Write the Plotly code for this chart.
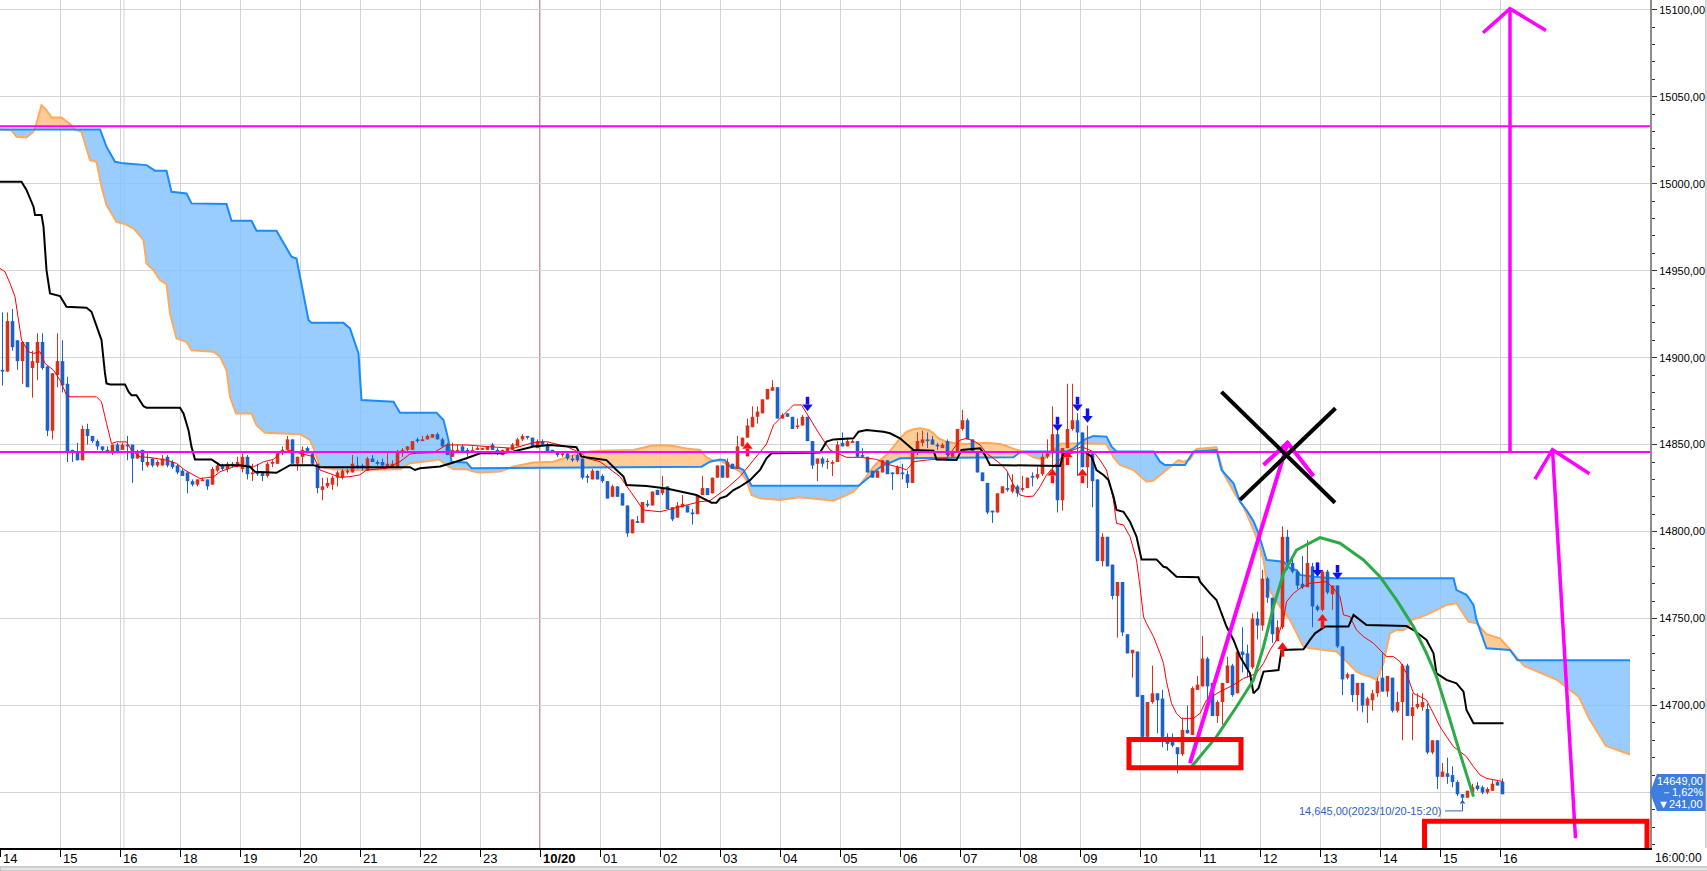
import numpy as np
import plotly.graph_objects as go

# ---------------- data (5-minute bars, index 0 = 14:00) ----------------
hour_labels = ["14", "15", "16", "18", "19", "20", "21", "22", "23", "10/20", "01", "02", "03",
               "04", "05", "06", "07", "08", "09", "10", "11", "12", "13", "14", "15", "16"]

bar_open = [
    14893, 14892, 14921, 14910, 14898, 14909, 14894, 14897, 14909, 14895, 14858, 14890,
    14898, 14885, 14847, 14846, 14841, 14859, 14855, 14852, 14849, 14847, 14845, 14850,
    14847, 14850, 14850, 14842, 14847, 14838, 14842, 14838, 14838, 14843, 14840, 14838,
    14835, 14834, 14829, 14827, 14829, 14830, 14827, 14835, 14838, 14836, 14839, 14838,
    14836, 14843, 14833, 14834, 14834, 14832, 14839, 14839, 14845, 14847, 14853, 14839,
    14843, 14848, 14845, 14839, 14824, 14826, 14827, 14831, 14831, 14834, 14834, 14838,
    14838, 14835, 14842, 14840, 14840, 14837, 14837, 14837, 14845, 14847, 14847, 14853,
    14852, 14853, 14854, 14856, 14853, 14850, 14843, 14846, 14849, 14847, 14846, 14847,
    14847, 14847, 14850, 14847, 14844, 14846, 14847, 14849, 14853, 14855, 14854, 14848,
    14852, 14850, 14847, 14846, 14844, 14845, 14842, 14844, 14842, 14832, 14830, 14835,
    14832, 14829, 14820, 14826, 14822, 14815, 14799, 14806, 14805, 14816, 14815, 14824,
    14822, 14826, 14814, 14808, 14814, 14815, 14811, 14810, 14821, 14825, 14822, 14831,
    14838, 14831, 14839, 14836, 14849, 14854, 14860, 14866, 14868, 14876, 14881, 14883,
    14865, 14868, 14866, 14860, 14861, 14866, 14852, 14839, 14842, 14840, 14839, 14840,
    14851, 14849, 14851, 14852, 14844, 14843, 14835, 14831, 14834, 14841, 14834, 14833,
    14834, 14833, 14828, 14847, 14851, 14853, 14853, 14850, 14848, 14852, 14843, 14846,
    14859, 14864, 14853, 14846, 14834, 14828, 14812, 14811, 14822, 14825, 14823, 14826,
    14824, 14825, 14832, 14831, 14833, 14843, 14845, 14856, 14818, 14848, 14859, 14864,
    14857, 14837, 14845, 14830, 14783, 14797, 14781, 14763, 14771, 14741, 14730, 14731,
    14706, 14682, 14702, 14707, 14704, 14682, 14679, 14676, 14672, 14686, 14683, 14709,
    14711, 14727, 14713, 14694, 14702, 14713, 14723, 14707, 14731, 14730, 14722, 14750,
    14746, 14773, 14762, 14737, 14745, 14797, 14782, 14777, 14770, 14768, 14780, 14757,
    14755, 14777, 14764, 14769, 14734, 14716, 14718, 14706, 14713, 14700, 14703, 14707,
    14716, 14708, 14716, 14697, 14702, 14723, 14694, 14699, 14699, 14698, 14673, 14680,
    14659, 14661, 14660, 14656, 14649, 14647, 14650, 14654, 14653, 14650, 14651, 14656,
    14656]

bar_high = [
    14926, 14926, 14928, 14910, 14909, 14909, 14904, 14914, 14914, 14895, 14891, 14914,
    14910, 14889, 14847, 14851, 14861, 14862, 14855, 14853, 14849, 14849, 14850, 14851,
    14851, 14855, 14850, 14847, 14847, 14845, 14842, 14841, 14844, 14844, 14841, 14839,
    14836, 14834, 14830, 14830, 14831, 14830, 14837, 14840, 14839, 14840, 14840, 14843,
    14845, 14844, 14839, 14839, 14834, 14840, 14841, 14846, 14849, 14855, 14853, 14843,
    14849, 14849, 14845, 14839, 14831, 14831, 14832, 14835, 14836, 14836, 14844, 14843,
    14839, 14843, 14844, 14841, 14842, 14845, 14841, 14847, 14848, 14849, 14852, 14854,
    14855, 14856, 14856, 14857, 14854, 14851, 14851, 14850, 14850, 14848, 14849, 14849,
    14848, 14849, 14851, 14848, 14847, 14848, 14851, 14854, 14856, 14855, 14854, 14853,
    14853, 14851, 14847, 14846, 14845, 14845, 14844, 14845, 14842, 14833, 14836, 14835,
    14833, 14829, 14827, 14826, 14822, 14815, 14807, 14809, 14817, 14818, 14823, 14824,
    14832, 14826, 14814, 14817, 14821, 14815, 14813, 14821, 14832, 14825, 14831, 14838,
    14838, 14842, 14839, 14855, 14854, 14865, 14872, 14872, 14876, 14882, 14887, 14883,
    14868, 14868, 14866, 14865, 14867, 14866, 14852, 14842, 14843, 14842, 14841, 14852,
    14857, 14854, 14853, 14852, 14848, 14843, 14835, 14835, 14841, 14841, 14834, 14838,
    14839, 14835, 14847, 14857, 14858, 14857, 14855, 14851, 14851, 14853, 14846, 14859,
    14870, 14865, 14853, 14846, 14834, 14828, 14812, 14822, 14826, 14834, 14833, 14827,
    14832, 14831, 14834, 14837, 14845, 14853, 14872, 14863, 14848, 14885, 14885, 14868,
    14857, 14861, 14845, 14830, 14799, 14797, 14781, 14771, 14771, 14741, 14732, 14731,
    14706, 14702, 14723, 14707, 14709, 14684, 14684, 14676, 14693, 14700, 14711, 14717,
    14740, 14728, 14713, 14703, 14713, 14728, 14724, 14732, 14745, 14735, 14753, 14754,
    14778, 14774, 14762, 14749, 14803, 14801, 14786, 14778, 14786, 14795, 14782, 14758,
    14778, 14778, 14769, 14769, 14734, 14719, 14718, 14713, 14713, 14705, 14709, 14716,
    14730, 14717, 14716, 14708, 14724, 14724, 14707, 14707, 14707, 14701, 14680, 14680,
    14667, 14670, 14665, 14657, 14649, 14651, 14655, 14656, 14654, 14653, 14657, 14657,
    14658]

bar_low = [
    14884, 14892, 14904, 14893, 14885, 14883, 14877, 14887, 14893, 14855, 14853, 14883,
    14880, 14840, 14840, 14841, 14841, 14850, 14851, 14847, 14846, 14845, 14844, 14845,
    14847, 14841, 14828, 14842, 14835, 14837, 14837, 14837, 14838, 14837, 14836, 14833,
    14832, 14822, 14826, 14826, 14829, 14824, 14827, 14834, 14835, 14834, 14837, 14837,
    14834, 14830, 14829, 14832, 14829, 14831, 14837, 14839, 14844, 14847, 14839, 14835,
    14839, 14845, 14838, 14822, 14818, 14825, 14824, 14826, 14830, 14833, 14834, 14836,
    14835, 14835, 14840, 14838, 14837, 14837, 14837, 14837, 14843, 14846, 14847, 14851,
    14852, 14853, 14854, 14853, 14849, 14844, 14843, 14845, 14846, 14843, 14846, 14847,
    14847, 14847, 14847, 14844, 14844, 14846, 14847, 14849, 14852, 14853, 14849, 14848,
    14849, 14846, 14846, 14843, 14843, 14841, 14840, 14840, 14830, 14828, 14830, 14830,
    14828, 14819, 14820, 14820, 14815, 14797, 14799, 14805, 14805, 14814, 14815, 14821,
    14821, 14813, 14806, 14808, 14814, 14811, 14804, 14810, 14821, 14821, 14822, 14831,
    14831, 14831, 14836, 14836, 14849, 14854, 14860, 14862, 14868, 14876, 14881, 14865,
    14865, 14866, 14859, 14859, 14861, 14852, 14836, 14829, 14837, 14836, 14832, 14840,
    14849, 14849, 14851, 14843, 14843, 14834, 14831, 14831, 14834, 14833, 14824, 14833,
    14830, 14825, 14828, 14844, 14849, 14848, 14850, 14847, 14848, 14843, 14843, 14846,
    14858, 14853, 14846, 14834, 14829, 14810, 14805, 14811, 14822, 14823, 14822, 14820,
    14823, 14825, 14826, 14830, 14832, 14842, 14835, 14811, 14812, 14848, 14858, 14832,
    14837, 14825, 14814, 14783, 14780, 14780, 14761, 14739, 14740, 14730, 14716, 14705,
    14682, 14682, 14701, 14684, 14676, 14674, 14676, 14661, 14671, 14684, 14683, 14709,
    14711, 14703, 14694, 14690, 14689, 14713, 14705, 14707, 14719, 14716, 14721, 14738,
    14743, 14759, 14736, 14737, 14744, 14778, 14776, 14767, 14767, 14768, 14745, 14754,
    14754, 14764, 14755, 14733, 14706, 14715, 14702, 14697, 14696, 14690, 14697, 14705,
    14708, 14705, 14696, 14696, 14680, 14694, 14680, 14698, 14697, 14672, 14672, 14652,
    14659, 14655, 14653, 14648, 14645, 14647, 14650, 14651, 14649, 14649, 14651, 14654,
    14649]

bar_close = [
    14892, 14921, 14906, 14898, 14909, 14883, 14898, 14909, 14894, 14858, 14891, 14898,
    14884, 14846, 14846, 14841, 14859, 14855, 14852, 14849, 14847, 14846, 14850, 14846,
    14850, 14849, 14842, 14845, 14840, 14840, 14838, 14840, 14842, 14838, 14837, 14834,
    14832, 14829, 14827, 14830, 14830, 14826, 14836, 14838, 14836, 14839, 14838, 14840,
    14843, 14833, 14834, 14833, 14832, 14839, 14840, 14845, 14847, 14853, 14839, 14843,
    14847, 14845, 14839, 14825, 14826, 14828, 14831, 14834, 14835, 14835, 14839, 14837,
    14837, 14842, 14840, 14839, 14838, 14839, 14839, 14846, 14847, 14849, 14852, 14852,
    14853, 14855, 14856, 14853, 14849, 14844, 14847, 14847, 14846, 14845, 14847, 14848,
    14848, 14849, 14847, 14845, 14847, 14848, 14850, 14853, 14855, 14854, 14849, 14852,
    14850, 14846, 14846, 14844, 14845, 14842, 14841, 14841, 14831, 14831, 14835, 14830,
    14829, 14819, 14826, 14820, 14815, 14799, 14807, 14805, 14817, 14815, 14823, 14821,
    14825, 14813, 14807, 14815, 14816, 14811, 14810, 14821, 14825, 14821, 14831, 14838,
    14831, 14840, 14836, 14849, 14854, 14861, 14866, 14869, 14876, 14882, 14883, 14865,
    14867, 14866, 14859, 14861, 14866, 14852, 14838, 14842, 14839, 14840, 14840, 14850,
    14849, 14852, 14852, 14843, 14843, 14834, 14831, 14835, 14841, 14833, 14833, 14837,
    14833, 14828, 14847, 14852, 14853, 14852, 14850, 14849, 14850, 14844, 14846, 14859,
    14864, 14853, 14846, 14834, 14829, 14811, 14811, 14822, 14826, 14824, 14827, 14822,
    14825, 14831, 14831, 14833, 14843, 14845, 14856, 14818, 14848, 14859, 14864, 14857,
    14837, 14845, 14829, 14783, 14797, 14780, 14763, 14771, 14742, 14730, 14732, 14705,
    14682, 14702, 14707, 14703, 14682, 14678, 14677, 14672, 14686, 14684, 14710, 14712,
    14727, 14711, 14694, 14702, 14713, 14723, 14706, 14731, 14729, 14721, 14750, 14746,
    14773, 14762, 14741, 14745, 14797, 14782, 14777, 14769, 14768, 14782, 14757, 14755,
    14777, 14765, 14769, 14734, 14715, 14718, 14706, 14713, 14700, 14704, 14707, 14714,
    14708, 14717, 14697, 14702, 14723, 14694, 14699, 14701, 14702, 14673, 14680, 14659,
    14662, 14659, 14656, 14649, 14647, 14651, 14653, 14652, 14650, 14652, 14655, 14654,
    14649]

# Ichimoku lines as (bar position, price) vertices
tenkan_pts = [(-0.5,14951.3),(0.5,14949.4),(1.5,14942.7),(2.5,14935.0),(3.2,14921.6),(3.8,14910.1),(5.2,14903.4),(6.2,14902.4),(7.5,14903.4),(8.5,14896.7),(10.2,14892.8),(11.5,14887.1),(12.8,14878.5),(13.5,14877.5),(18.8,14877.5),(19.8,14874.6),(20.8,14862.2),(21.8,14850.6),(22.8,14851.6),(24.8,14851.6),(25.8,14846.8),(27.5,14843.0),(29.5,14842.6),(32.8,14841.1),(34.8,14839.2),(36.5,14835.3),(39.5,14830.5),(42.2,14831.5),(43.5,14834.4),(46.2,14837.2),(48.8,14838.2),(50.2,14837.2),(52.2,14840.1),(54.2,14841.5),(55.5,14845.3),(57.5,14846.8),(59.5,14845.0),(62.2,14843.1),(63.5,14835.4),(65.5,14833.5),(67.5,14831.2),(69.5,14831.6),(71.5,14832.6),(72.8,14835.4),(76.8,14836.4),(79.5,14840.2),(81.5,14844.6),(82.8,14845.0),(86.2,14845.4),(88.8,14849.8),(92.8,14849.8),(96.8,14848.9),(102.2,14847.9),(103.5,14848.9),(106.2,14851.2),(108.8,14851.7),(112.8,14848.9),(115.8,14845.0),(116.8,14842.2),(119.5,14840.2),(123.5,14831.6),(128.2,14812.4),(131.5,14811.4),(139.5,14817.2),(141.5,14817.8),(144.8,14824.8),(147.5,14831.6),(150.2,14841.1),(152.8,14850.3),(154.2,14861.3),(156.8,14868.4),(158.2,14872.8),(159.8,14872.8),(160.8,14868.0),(163.5,14855.5),(165.5,14846.9),(168.8,14842.7),(171.5,14842.7),(174.8,14841.5),(177.5,14838.3),(179.5,14836.9),(180.8,14835.4),(182.2,14840.2),(184.8,14841.1),(188.8,14842.1),(191.5,14852.6),(192.8,14853.6),(194.5,14851.7),(195.5,14849.8),(196.8,14845.0),(199.5,14839.2),(200.8,14835.4),(202.2,14826.8),(203.5,14821.0),(204.8,14820.1),(206.2,14820.4),(207.5,14825.8),(208.8,14832.5),(210.2,14837.3),(211.5,14842.1),(212.8,14845.9),(214.2,14846.9),(215.8,14848.8),(218.2,14845.9),(219.5,14841.1),(220.8,14835.4),(222.2,14818.1),(222.8,14804.7),(224.2,14803.8),(225.5,14797.1),(226.8,14783.6),(227.5,14768.3),(228.2,14751.0),(228.8,14747.2),(230.2,14739.6),(231.5,14730.0),(232.2,14724.2),(232.8,14713.7),(233.8,14701.2),(234.8,14695.4),(235.8,14692.6),(238.2,14692.6),(239.5,14695.5),(240.8,14703.2),(243.5,14708.0),(246.2,14711.8),(248.2,14715.6),(250.8,14718.5),(252.2,14724.3),(253.5,14731.9),(254.8,14737.7),(256.2,14749.2),(256.8,14759.7),(258.2,14764.5),(259.5,14767.4),(261.5,14770.3),(264.8,14771.2),(266.2,14767.4),(267.5,14762.6),(268.2,14752.1),(269.5,14751.1),(270.8,14743.4),(272.2,14739.6),(274.2,14735.8),(276.8,14728.1),(278.2,14728.1),(279.5,14725.2),(280.8,14718.5),(282.2,14707.0),(284.8,14703.2),(286.2,14695.5),(287.5,14687.8),(288.8,14682.1),(290.2,14676.3),(291.5,14673.5),(292.8,14670.6),(294.2,14664.8),(295.5,14660.1),(296.8,14658.1),(298.2,14657.2),(300.2,14656.2)]

kijun_pts = [(-0.5,15001.1),(3.8,15001.1),(4.8,14996.4),(6.2,14986.8),(6.5,14982.0),(7.8,14982.0),(8.2,14975.3),(8.8,14950.3),(9.5,14936.9),(11.5,14935.4),(12.8,14929.2),(16.8,14928.7),(17.8,14926.4),(18.8,14917.8),(19.8,14910.1),(20.5,14890.9),(20.8,14885.2),(21.5,14884.6),(24.5,14884.6),(25.2,14880.4),(25.8,14878.4),(26.8,14878.4),(28.2,14872.1),(28.8,14871.2),(35.5,14871.2),(36.2,14867.9),(37.2,14858.3),(37.8,14848.7),(38.5,14841.5),(41.8,14841.5),(43.5,14838.2),(47.5,14838.2),(49.5,14837.2),(50.5,14834.4),(54.8,14833.8),(57.5,14838.2),(62.2,14838.2),(63.5,14837.0),(81.5,14837.0),(82.5,14835.4),(83.5,14836.4),(87.5,14837.4),(88.8,14838.3),(90.2,14839.7),(92.8,14842.2),(95.5,14845.0),(99.5,14845.0),(102.2,14846.0),(106.2,14848.9),(109.5,14849.8),(114.8,14848.5),(115.8,14843.1),(119.5,14841.6),(120.8,14841.1),(122.8,14835.4),(124.2,14831.6),(124.8,14826.8),(128.8,14826.2),(132.8,14824.8),(135.5,14822.9),(138.8,14821.0),(140.8,14818.1),(141.8,14816.6),(142.8,14816.6),(143.5,14819.1),(144.8,14820.4),(146.2,14823.9),(147.5,14825.8),(149.5,14829.6),(151.5,14835.4),(152.8,14842.1),(153.8,14845.0),(163.5,14845.4),(164.8,14851.7),(166.2,14853.0),(170.2,14853.6),(171.2,14857.4),(172.8,14858.4),(176.2,14857.4),(177.5,14856.5),(178.8,14854.6),(179.5,14853.6),(182.2,14846.9),(186.2,14846.5),(186.8,14841.5),(190.8,14841.1),(191.8,14846.9),(195.5,14847.9),(196.5,14844.0),(197.5,14838.3),(211.5,14837.7),(212.2,14845.0),(215.5,14845.9),(216.8,14845.4),(217.8,14843.1),(218.8,14835.4),(220.2,14832.5),(221.2,14829.6),(222.2,14820.1),(222.8,14812.4),(224.2,14811.4),(225.5,14805.7),(226.8,14797.1),(227.5,14788.4),(227.8,14784.0),(230.8,14784.0),(232.2,14779.8),(232.8,14779.4),(234.8,14774.0),(239.2,14773.7),(239.5,14771.2),(241.5,14764.5),(242.8,14760.7),(244.8,14745.4),(246.2,14737.7),(247.5,14728.1),(249.5,14718.5),(250.2,14707.0),(251.2,14709.9),(252.2,14719.5),(255.2,14720.4),(255.8,14731.9),(260.2,14732.3),(261.5,14737.7),(262.5,14741.5),(264.5,14745.4),(269.2,14745.4),(270.2,14752.1),(272.8,14746.3),(280.8,14745.7),(282.2,14743.4),(284.8,14737.7),(286.2,14730.0),(286.8,14718.5),(288.8,14714.7),(290.8,14712.8),(292.2,14708.0),(292.8,14697.4),(294.2,14689.8),(300.2,14689.8)]

spanA_pts = [(-0.5,15031.2),(1.8,15030.8),(2.8,15027.0),(4.8,15026.6),(6.2,15029.9),(6.8,15034.7),(7.8,15045.2),(8.8,15042.3),(9.8,15038.1),(11.8,15038.1),(13.8,15033.7),(14.5,15031.2),(15.8,15029.9),(17.5,15013.6),(18.8,15012.6),(19.8,14998.3),(20.8,14987.7),(22.8,14978.1),(24.5,14976.8),(26.2,14974.3),(28.2,14967.6),(28.8,14954.2),(30.2,14950.3),(31.5,14944.6),(32.8,14942.3),(33.5,14925.4),(34.8,14911.0),(36.8,14909.1),(37.8,14904.3),(42.2,14903.4),(43.5,14900.5),(44.8,14892.8),(45.5,14877.5),(46.7,14867.9),(49.8,14867.9),(50.8,14861.2),(52.5,14856.8),(59.5,14856.0),(61.5,14852.7),(62.5,14846.0),(63.5,14837.4),(66.2,14835.8),(69.5,14835.4),(76.2,14835.8),(79.5,14835.8),(81.5,14839.3),(86.2,14840.8),(87.2,14841.6),(88.2,14839.3),(89.2,14837.4),(90.2,14835.8),(92.8,14835.8),(94.2,14834.5),(95.5,14833.9),(99.5,14834.5),(100.8,14835.8),(102.2,14837.4),(106.2,14839.7),(110.2,14840.2),(112.8,14842.7),(115.5,14845.0),(117.5,14846.0),(119.5,14846.5),(126.2,14846.9),(127.5,14847.8),(129.5,14849.2),(131.5,14849.8),(134.2,14849.2),(136.8,14847.8),(139.5,14846.9),(140.8,14842.7),(142.2,14840.8),(143.5,14840.8),(146.2,14836.3),(147.5,14834.4),(148.8,14829.6),(149.8,14821.0),(151.5,14819.1),(155.5,14818.1),(159.5,14819.7),(162.2,14819.1),(166.2,14817.8),(168.8,14821.0),(170.2,14822.9),(171.5,14826.8),(172.8,14831.6),(174.2,14837.3),(175.5,14841.1),(176.8,14844.0),(178.2,14848.8),(179.5,14853.6),(180.8,14857.4),(182.2,14858.8),(183.5,14859.4),(185.2,14858.4),(186.2,14856.5),(187.2,14853.6),(188.8,14851.7),(190.8,14850.7),(192.8,14850.3),(195.5,14850.7),(196.8,14851.1),(199.5,14850.3),(200.8,14849.2),(202.5,14847.3),(204.2,14845.9),(206.2,14842.7),(208.2,14841.5),(210.2,14846.5),(211.5,14850.5),(216.2,14850.8),(220.8,14850.3),(222.2,14842.7),(223.5,14838.3),(226.2,14835.4),(228.8,14828.7),(230.2,14829.3),(232.8,14835.4),(234.2,14838.3),(235.2,14841.1),(236.2,14840.2),(237.5,14841.5),(238.8,14847.5),(242.8,14848.5),(244.2,14833.5),(246.8,14820.1),(247.8,14816.3),(248.8,14810.5),(250.2,14801.0),(251.2,14793.3),(252.2,14783.7),(252.8,14772.2),(253.8,14764.5),(255.5,14756.8),(257.5,14749.2),(258.8,14741.5),(260.2,14733.8),(261.5,14732.9),(264.8,14731.9),(266.8,14731.0),(268.2,14727.1),(269.5,14723.3),(270.8,14719.5),(272.2,14717.6),(273.5,14716.6),(274.8,14714.7),(276.2,14724.3),(276.8,14732.9),(277.5,14741.5),(278.8,14743.4),(280.2,14743.4),(281.2,14745.3),(281.8,14749.2),(282.8,14750.1),(284.8,14752.1),(286.8,14754.9),(288.8,14757.8),(290.8,14758.8),(292.2,14753.0),(293.2,14748.2),(294.8,14747.3),(296.8,14741.0),(299.5,14738.6),(301.5,14732.3),(304.3,14722.7),(310.9,14714.7),(315.3,14704.9),(317.3,14692.5),(320.7,14676.7),(325.5,14671.8)]

spanB_pts = [(-0.5,15031.2),(19.5,15031.2),(20.8,15021.3),(22.5,15012.6),(24.2,15011.7),(28.8,15010.7),(30.5,15007.5),(32.8,15007.5),(33.8,14995.4),(36.8,14994.4),(37.8,14988.7),(44.8,14988.3),(45.8,14978.7),(49.8,14978.7),(50.8,14973.0),(54.8,14973.0),(57.8,14958.0),(58.8,14957.0),(61.2,14921.6),(61.8,14920.0),(68.2,14920.0),(69.5,14916.8),(71.2,14902.4),(71.8,14875.6),(74.5,14875.2),(78.2,14874.6),(79.5,14868.3),(86.8,14868.3),(88.2,14864.1),(89.2,14852.6),(89.8,14840.1),(92.8,14839.7),(93.8,14836.4),(119.5,14837.0),(139.8,14837.3),(141.5,14840.2),(143.5,14841.5),(144.5,14841.1),(145.2,14838.3),(145.8,14836.9),(147.2,14836.9),(148.2,14835.4),(149.2,14829.6),(149.8,14826.4),(171.2,14826.4),(172.2,14828.7),(173.5,14831.6),(174.8,14835.4),(176.2,14838.3),(177.5,14839.6),(179.5,14842.1),(202.2,14842.7),(203.2,14845.0),(204.2,14846.1),(212.8,14846.1),(214.2,14847.8),(215.5,14851.1),(216.8,14853.5),(218.2,14855.0),(220.8,14854.6),(221.8,14848.9),(222.8,14846.0),(230.2,14846.0),(231.5,14840.2),(232.5,14838.3),(236.5,14838.3),(238.2,14846.0),(242.8,14846.9),(243.8,14835.4),(246.2,14827.8),(247.5,14817.2),(248.8,14812.4),(250.2,14806.0),(251.2,14799.0),(252.2,14790.0),(252.8,14783.7),(256.2,14782.7),(257.5,14778.9),(258.8,14777.9),(259.5,14775.1),(262.2,14774.1),(266.2,14773.1),(290.2,14773.1),(290.8,14766.4),(292.8,14763.6),(294.2,14757.8),(294.8,14749.2),(295.8,14741.5),(296.8,14732.9),(301.5,14731.9),(303.0,14726.0),(325.5,14726.0)]

up_signal_k = [149, 210, 213, 216, 256, 264]
up_signal_p = [14847.0, 14831.6, 14842.1, 14831.6, 14731.9, 14748.2]
down_signal_k = [161, 211, 215, 217, 263, 267]
down_signal_p = [14873.7, 14862.2, 14873.7, 14867.0, 14778.5, 14777.0]

level_lines = [15033.0, 14845.7]
last_price_text = ["14649,00", "－1,62%", "▼241,00"]
last_price = 14650.0
low_k, low_price = 292, 14645.0
low_text = "14,645,00(2023/10/20-15:20)"
y_ticks = list(range(14650, 15101, 50))

# ---------------- figure ----------------
RED = "#d3321c"
BLUE = "#1b61c6"
O = np.array(bar_open, float); H = np.array(bar_high, float)
L = np.array(bar_low, float); C = np.array(bar_close, float)
ks = np.arange(len(O))
up = C >= O

fig = go.Figure()

def add_line(x, y, color, width, **kw):
    fig.add_trace(go.Scatter(x=x, y=y, mode="lines", line=dict(color=color, width=width),
                             hoverinfo="skip", showlegend=False, **kw))

# cloud fill between span A and span B
ak, ap = zip(*spanA_pts)
bk, bp = zip(*spanB_pts)
fine = np.arange(-0.5, 325.5 + 1e-9, 0.1)
a = np.interp(fine, ak, ap)
b = np.interp(fine, bk, bp)
lo = np.minimum(a, b)
for top, col in ((np.where(b > a, b, lo), "rgba(128,191,255,0.8)"),
                 (np.where(a > b, a, lo), "rgba(255,190,125,0.8)")):
    add_line(fine, lo, col, 0)
    add_line(fine, top, col, 0, fill="tonexty", fillcolor=col)

add_line(list(ak), list(ap), "#ffa95c", 2)
add_line(list(bk), list(bp), "#1a8aff", 2)

# candles
def segs(xs, y0, y1):
    X, Y = [], []
    for x, p, q in zip(xs, y0, y1):
        X += [x, x, None]
        Y += [p, q, None]
    return X, Y

for mask, col in ((up, RED), (~up, BLUE)):
    X, Y = segs(ks[mask], L[mask], H[mask])
    add_line(X, Y, col, 1)
    lo_b = np.minimum(O, C)[mask]
    hi_b = np.maximum(np.maximum(O, C)[mask], lo_b + 0.7)
    X, Y = segs(ks[mask], lo_b, hi_b)
    add_line(X, Y, col, 3.6)

tk, tp = zip(*tenkan_pts)
add_line(list(tk), list(tp), "#ff0000", 1)
kk_, kp = zip(*kijun_pts)
add_line(list(kk_), list(kp), "#000000", 2)

# signal arrows
X, Y = segs(up_signal_k, [p - 3.8 for p in up_signal_p], [p + 0.6 for p in up_signal_p])
add_line(X, Y, "#ff1010", 3.5)
fig.add_trace(go.Scatter(x=up_signal_k, y=[p + 1.9 for p in up_signal_p], mode="markers",
                         marker=dict(symbol="triangle-up", size=9, color="#ff1010"),
                         hoverinfo="skip", showlegend=False))
X, Y = segs(down_signal_k, [p - 0.6 for p in down_signal_p], [p + 3.8 for p in down_signal_p])
add_line(X, Y, "#1010e8", 3.5)
fig.add_trace(go.Scatter(x=down_signal_k, y=[p - 1.9 for p in down_signal_p], mode="markers",
                         marker=dict(symbol="triangle-down", size=9, color="#1010e8"),
                         hoverinfo="skip", showlegend=False))

# low marker
fig.add_trace(go.Scatter(x=[low_k], y=[low_price - 0.6], mode="markers",
                         marker=dict(symbol="triangle-up", size=5, color="#2a62c0"),
                         hoverinfo="skip", showlegend=False))

shapes = []
# session separator & date line
shapes.append(dict(type="line", xref="x", yref="paper", x0=24.3, x1=24.3, y0=0, y1=1,
                   line=dict(color="#d4d4d4", width=1), layer="between"))
shapes.append(dict(type="line", xref="x", yref="paper", x0=107.5, x1=107.5, y0=0, y1=1,
                   line=dict(color="#a8204a", width=1), layer="between"))
for lv in level_lines:
    shapes.append(dict(type="line", xref="paper", yref="y", x0=0, x1=1, y0=lv, y1=lv,
                       line=dict(color="#ff00ff", width=2)))

def path(pts):
    return "M " + " L ".join(f"{x},{y}" for x, y in pts)

MAG = "#ff00ff"
drawings = [
    ([(301.5, 14845.7), (301.5, 15100.6)], MAG, 3.5),
    ([(296.1, 15086.8), (301.5, 15100.6), (308.7, 15088.1)], MAG, 3.5),
    ([(314.6, 14623.7), (310.0, 14847.1)], MAG, 3.5),
    ([(306.5, 14830.2), (310.0, 14847.1), (317.4, 14833.3)], MAG, 3.5),
    ([(237.5, 14666.9), (257.0, 14850.8)], MAG, 4),
    ([(252.2, 14838.3), (257.0, 14851.1), (262.2, 14831.9)], MAG, 4),
    ([(243.8, 14880.3), (266.5, 14816.6)], "#000000", 4),
    ([(247.5, 14818.2), (266.6, 14870.9)], "#000000", 4),
    ([(237.8, 14664.8), (242.8, 14682.1), (246.8, 14699.3), (250.2, 14714.7), (252.2, 14733.8),
      (254.2, 14756.8), (256.2, 14776.0), (258.8, 14789.4), (263.5, 14796.5), (267.5, 14793.3),
      (272.2, 14783.7), (275.5, 14774.1), (278.8, 14760.7), (282.2, 14745.3), (284.8, 14730.0),
      (286.8, 14716.6), (289.5, 14691.7), (291.5, 14672.5), (294.2, 14647.6)], "#2caa48", 3),
]
for pts, col, w in drawings:
    shapes.append(dict(type="path", xref="x", yref="y", path=path(pts),
                       line=dict(color=col, width=w)))
shapes.append(dict(type="rect", xref="x", yref="y", x0=225.3, x1=247.7, y0=14664.2, y1=14680.4,
                   line=dict(color="#ff0000", width=5)))
shapes.append(dict(type="rect", xref="x", yref="y", x0=284.4, x1=328.9, y0=14590, y1=14633.5,
                   line=dict(color="#ff0000", width=5)))
# low annotation leader
shapes.append(dict(type="path", xref="x", yref="y",
                   path=path([(288.5, 14639.4), (low_k, 14639.4), (low_k, 14643.5)]),
                   line=dict(color="#2a62c0", width=1)))
# price box on the axis
shapes.append(dict(type="path", xref="paper", yref="y",
                   path=path([(1.0, last_price), (1.0042, last_price + 10.6), (1.0339, last_price + 10.6),
                              (1.0339, last_price - 10.6), (1.0042, last_price - 10.6)]) + " Z",
                   fillcolor="#3d7fe0", line=dict(width=0)))
# frame bits
shapes.append(dict(type="line", xref="paper", yref="paper", x0=1.0339, x1=1.0339, y0=0, y1=1,
                   line=dict(color="#a8a8a8", width=1)))
shapes.append(dict(type="rect", xref="paper", yref="paper", x0=0, x1=1.04, y0=-0.0272, y1=-0.0222,
                   fillcolor="#e4e4e4", line=dict(color="#b0b0b0", width=1)))

annotations = []
for t, lab in enumerate(hour_labels):
    txt = f"<b>{lab}</b>" if "/" in lab else lab
    annotations.append(dict(x=12 * t - 0.5, y=-0.0118, xref="x", yref="paper", text=txt,
                            showarrow=False, xanchor="left", yanchor="middle", xshift=1,
                            font=dict(family="Liberation Sans Narrow, Liberation Sans, Arial", size=13,
                                      color="black")))
annotations.append(dict(x=1.017, y=-0.0118, xref="paper", yref="paper", text="16:00:00",
                        showarrow=False, xanchor="center", yanchor="middle",
                        font=dict(family="Liberation Sans", size=12, color="black")))
for i, s in enumerate(last_price_text):
    annotations.append(dict(x=1.0333, y=last_price + 6.6 - 6.6 * i, xref="paper", yref="y", text=s,
                            showarrow=False, xanchor="right", yanchor="middle",
                            font=dict(family="Liberation Sans", size=11, color="white")))
annotations.append(dict(x=288.3, y=14639.4, xref="x", yref="y", text=low_text, showarrow=False,
                        xanchor="right", yanchor="middle",
                        font=dict(family="Liberation Sans", size=11, color="#2a62c0")))

fig.update_layout(
    width=1707, height=871,
    margin=dict(l=0, r=57, t=0, b=23),
    paper_bgcolor="white", plot_bgcolor="white", showlegend=False,
    font=dict(family="Liberation Sans, Arial, sans-serif", size=11, color="black"),
    shapes=shapes, annotations=annotations,
    xaxis=dict(range=[-0.5, 329.5], tickmode="array",
               tickvals=[12 * t - 0.5 for t in range(len(hour_labels))],
               showticklabels=False, ticks="outside", ticklen=7, tickcolor="black",
               showgrid=True, gridcolor="#d4d4d4", gridwidth=1, zeroline=False,
               showline=True, linecolor="black", linewidth=2, fixedrange=True),
    yaxis=dict(side="right", range=[14618.08, 15105.63], tickmode="array",
               tickvals=y_ticks, ticktext=[f"{v},00" for v in y_ticks],
               ticks="outside", ticklen=5, tickcolor="#333333",
               showgrid=True, gridcolor="#d4d4d4", gridwidth=1, zeroline=False,
               showline=True, linecolor="#8c8c8c", linewidth=2, fixedrange=True,
               tickfont=dict(family="Liberation Sans", size=11, color="black"),
               minor=dict(tickmode="linear", tick0=14620, dtick=10, ticks="outside", ticklen=3,
                          tickcolor="#333333", showgrid=False)),
)

fig.write_html("out.html", config={"displayModeBar": False},
               post_script="document.body.style.margin='0px';document.body.style.overflow='hidden';")
